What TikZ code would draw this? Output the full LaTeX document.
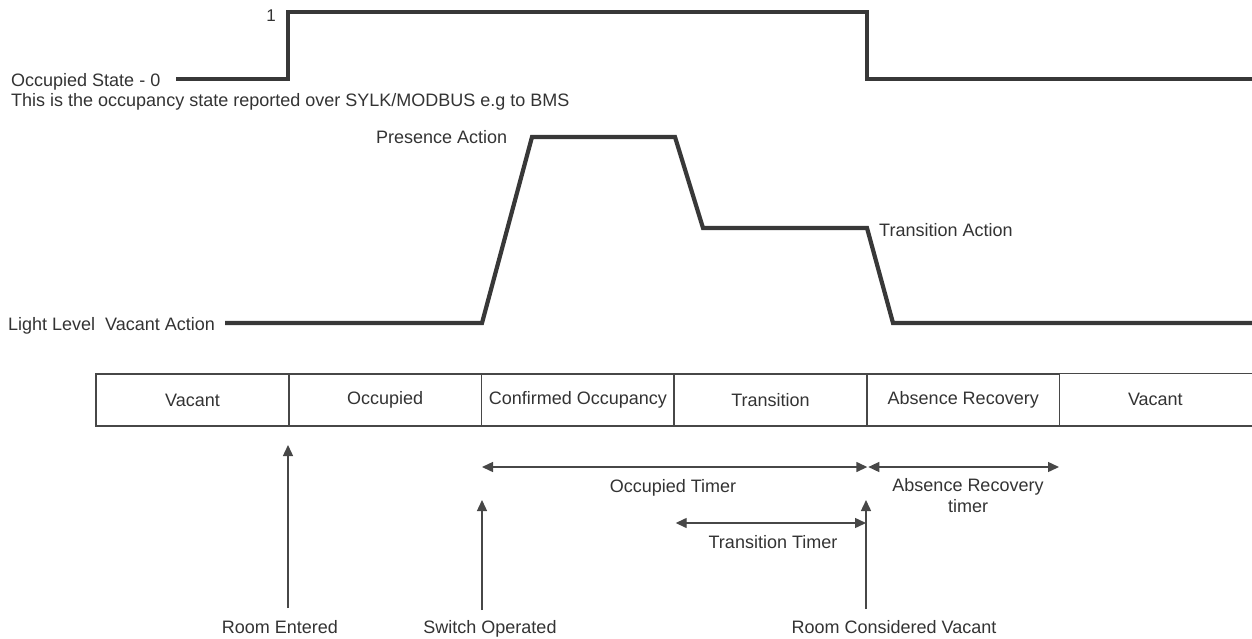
\documentclass[tikz,border=0pt]{standalone}
\usepackage{fontspec}
\setmainfont{Liberation Sans}
\usetikzlibrary{arrows.meta}
\definecolor{ink}{HTML}{333333}
\definecolor{sig}{HTML}{383838}
\definecolor{thin}{HTML}{474747}
\begin{document}
\begin{tikzpicture}[x=1pt,y=-1pt,
  font=\fontsize{18}{21.6}\selectfont, text=ink,
  signal/.style={line width=4.2pt, draw=sig, line join=miter},
  cellbox/.style={draw=thin, line width=1.6pt, minimum width=192.7pt, minimum height=52pt, inner sep=0pt, anchor=north west},
  cellopen/.style={minimum width=192.7pt, minimum height=52pt, inner sep=0pt, anchor=north west},
  lbl/.style={inner sep=0pt, anchor=base},
  lblw/.style={inner sep=0pt, anchor=base west},
  tipx/.tip={Triangle[length=11pt,width=10pt]},
  evt/.style={line width=1.4pt, draw=thin, -tipx},
  spanarrow/.style={line width=1.4pt, draw=thin, tipx-tipx}]
\useasboundingbox (0,0) rectangle (1252,638);

% ---- occupied state signal ----
\coordinate (o0) at (176,79);
\coordinate (o1) at (288,79);
\coordinate (o2) at (288,12);
\coordinate (o3) at (867,12);
\coordinate (o4) at (867,79);
\coordinate (o5) at (1253,79);
\draw[signal] (o0) -- (o1) -- (o2) -- (o3) -- (o4) -- (o5);

\node[lbl, font=\fontsize{17}{20}\selectfont] (one) at (271,21) {1};
\node[lblw] (occ) at (11,86) {Occupied State - 0};
\node[lblw] (occnote) at (11,106) {This is the occupancy state reported over SYLK/MODBUS e.g to BMS};

% ---- light level signal ----
\coordinate (l0) at (225,323);
\coordinate (l1) at (482,323);
\coordinate (l2) at (532,137);
\coordinate (l3) at (675,137);
\coordinate (l4) at (703,228);
\coordinate (l5) at (867,228);
\coordinate (l6) at (893,323);
\coordinate (l7) at (1253,323);
\draw[signal] (l0) -- (l1) -- (l2) -- (l3) -- (l4) -- (l5) -- (l6) -- (l7);

\node[lblw] (light) at (8,330) {Light Level\hspace{5pt} Vacant Action};
\node[lblw] (pres) at (376,143) {Presence Action};
\node[lblw] (trans) at (879,236) {Transition Action};

% ---- state bar ----
\node[cellbox] (c1) at (95.3,373.3) {Vacant};
\node[cellbox] (c2) at (288.0,373.3) {Occupied};
\node[cellbox] (c3) at (480.7,373.3) {Confirmed Occupancy};
\node[cellbox] (c4) at (673.4,373.3) {Transition};
\node[cellbox] (c5) at (866.1,373.3) {Absence Recovery};
\node[cellopen] (c6) at (1058.8,373.3) {Vacant};
\draw[draw=thin, line width=1.6pt] (c6.north west) -- (c6.north east) (c6.south west) -- (c6.south east);

% ---- events ----
\coordinate (reB) at (288,608);
\coordinate (reT) at (288,445);
\draw[evt] (reB) -- (reT);
\node[lbl] (re) at (280,633) {Room Entered};

\coordinate (soB) at (482,610);
\coordinate (soT) at (482,500);
\draw[evt] (soB) -- (soT);
\node[lbl] (so) at (490,633) {Switch Operated};

\coordinate (rvB) at (866,609);
\coordinate (rvT) at (866,500);
\draw[evt] (rvB) -- (rvT);
\node[lbl] (rv) at (894,633) {Room Considered Vacant};

% ---- timers ----
\coordinate (ot1) at (482,467);
\coordinate (ot2) at (867.3,467);
\draw[spanarrow] (ot1) -- (ot2);
\node[lbl] (otl) at (673,492) {Occupied Timer};

\coordinate (ar1) at (868.3,467);
\coordinate (ar2) at (1059,467);
\draw[spanarrow] (ar1) -- (ar2);
\node[lbl] (arl1) at (968,491) {Absence Recovery};
\node[lbl] (arl2) at (968,512) {timer};

\coordinate (tt1) at (675.7,523);
\coordinate (tt2) at (866,523);
\draw[spanarrow] (tt1) -- (tt2);
\node[lbl] (ttl) at (773,548) {Transition Timer};
\end{tikzpicture}
\end{document}
